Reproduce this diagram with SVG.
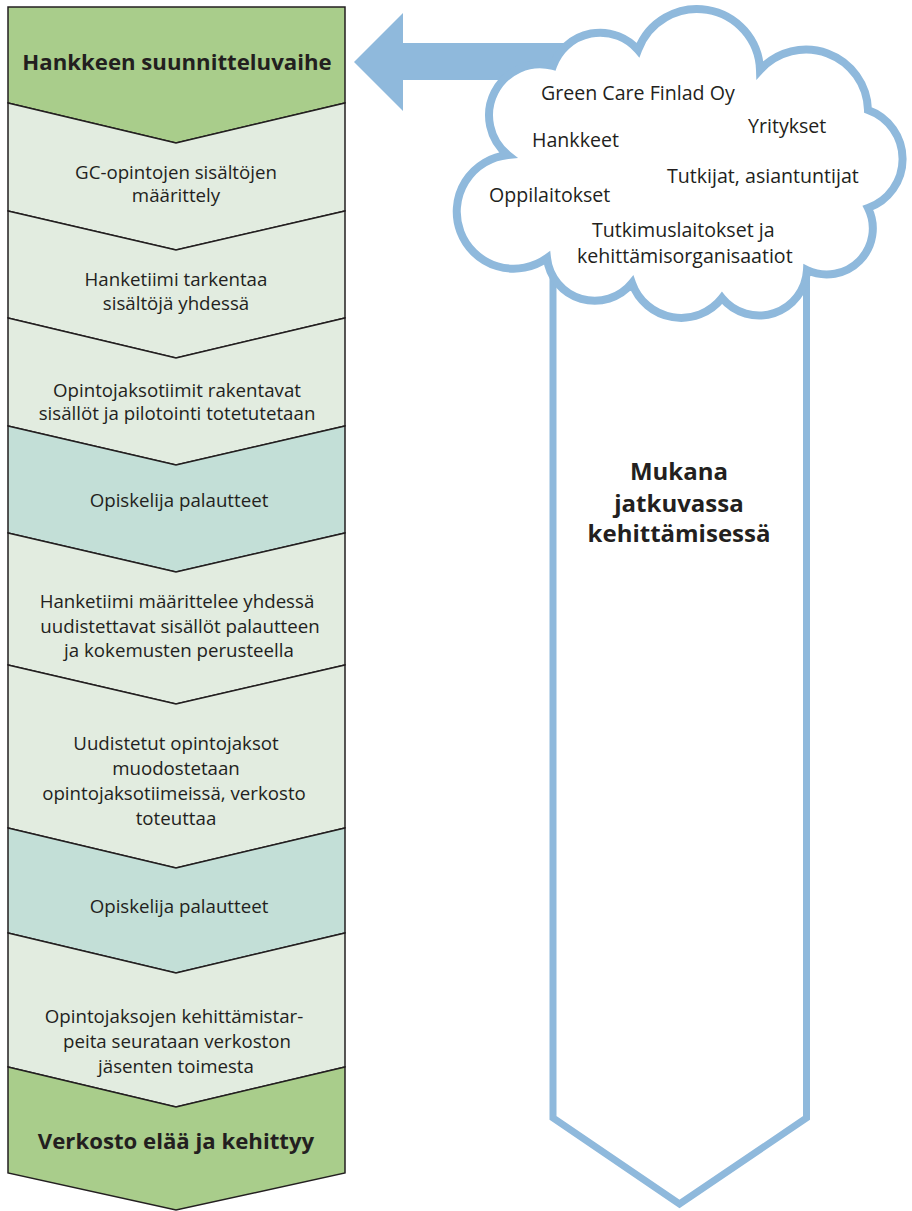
<svg xmlns="http://www.w3.org/2000/svg" width="912" height="1211" viewBox="0 0 912 1211">
<style>
.blk{stroke:#231f20;stroke-width:1.5;stroke-linejoin:miter}
.g{fill:#a9cd8b}
.l{fill:#e2ece0}
.t{fill:#c3dfd7}
.tx{font-family:"Open Sans","Noto Sans","Liberation Sans",sans-serif;font-size:18.7px;fill:#231f20;text-anchor:middle}
.hd{font-family:"Open Sans","Noto Sans","Liberation Sans",sans-serif;font-size:22.2px;font-weight:700;fill:#231f20;text-anchor:middle}
.mk{font-family:"Open Sans","Noto Sans","Liberation Sans",sans-serif;font-size:24px;font-weight:700;fill:#231f20;text-anchor:middle}
.ct{font-family:"Open Sans","Noto Sans","Liberation Sans",sans-serif;font-size:19.6px;fill:#231f20}
.blue{fill:none;stroke:#8fb9dc}
</style>
<rect width="912" height="1211" fill="#ffffff"/>

<g id="step1"><polygon class="blk g" points="8,7 345,7 345,103 176,143 8,103"/><text class="hd" x="177" y="70">Hankkeen suunnitteluvaihe</text></g>
<g id="step2"><polygon class="blk l" points="8,103 176,143 345,103 345,211 176,250 8,211"/><text class="tx" x="176" y="179">GC-opintojen sisältöjen</text><text class="tx" x="176" y="202">määrittely</text></g>
<g id="step3"><polygon class="blk l" points="8,211 176,250 345,211 345,318 176,358 8,318"/><text class="tx" x="176" y="286">Hanketiimi tarkentaa</text><text class="tx" x="176" y="310">sisältöjä yhdessä</text></g>
<g id="step4"><polygon class="blk l" points="8,318 176,358 345,318 345,426 176,465 8,426"/><text class="tx" x="177" y="397">Opintojaksotiimit rakentavat</text><text class="tx" x="177" y="420">sisällöt ja pilotointi totetutetaan</text></g>
<g id="step5"><polygon class="blk t" points="8,426 176,465 345,426 345,533 176,572 8,533"/><text class="tx" x="179" y="507">Opiskelija palautteet</text></g>
<g id="step6"><polygon class="blk l" points="8,533 176,572 345,533 345,665 176,704 8,665"/><text class="tx" x="177" y="608">Hanketiimi määrittelee yhdessä</text><text class="tx" x="180" y="633">uudistettavat sisällöt palautteen</text><text class="tx" x="179" y="657">ja kokemusten perusteella</text></g>
<g id="step7"><polygon class="blk l" points="8,665 176,704 345,665 345,828 176,868 8,828"/><text class="tx" x="176" y="750">Uudistetut opintojaksot</text><text class="tx" x="176" y="775">muodostetaan</text><text class="tx" x="174" y="800">opintojaksotiimeissä, verkosto</text><text class="tx" x="176" y="825">toteuttaa</text></g>
<g id="step8"><polygon class="blk t" points="8,828 176,868 345,828 345,933 176,973 8,933"/><text class="tx" x="179" y="913">Opiskelija palautteet</text></g>
<g id="step9"><polygon class="blk l" points="8,933 176,973 345,933 345,1067 176,1107 8,1067"/><text class="tx" x="174" y="1023">Opintojaksojen kehittämistar-</text><text class="tx" x="177" y="1048">peita seurataan verkoston</text><text class="tx" x="176" y="1073">jäsenten toimesta</text></g>
<g id="step10"><polygon class="blk g" points="8,1067 176,1107 345,1067 345,1173 176,1210 8,1173"/><text class="hd" x="176" y="1149">Verkosto elää ja kehittyy</text></g>

<g id="continuous-development">
<polyline class="blue" stroke-width="7" stroke-linejoin="miter" points="553,260 553,1118 679.5,1204 806.5,1118 806.5,260"/>
<text class="mk" x="679" y="480">Mukana</text>
<text class="mk" x="679" y="512">jatkuvassa</text>
<text class="mk" x="679" y="542">kehittämisessä</text>
</g>

<g id="connectors">
<polygon fill="#8fb9dc" points="354,62 403,13 403,43 575,43 575,80 403,80 403,111"/>
</g>

<g id="network-cloud">
<path fill="#ffffff" stroke="#8fb9dc" stroke-width="8" stroke-linejoin="miter" d="M553,66 A50,50 0 0 1 638,50 A63,63 0 0 1 760,70 A62,62 0 0 1 868,110 A52,52 0 0 1 868,208 A46,46 0 0 1 807,270 A48,48 0 0 1 722,298 A52,52 0 0 1 632,283 A48,48 0 0 1 547,258 A57,57 0 1 1 508,155 A51,51 0 0 1 553,66 Z"/>
<text class="ct" x="541" y="100">Green Care Finlad Oy</text>
<text class="ct" x="748" y="133">Yritykset</text>
<text class="ct" x="532" y="147">Hankkeet</text>
<text class="ct" x="667" y="183">Tutkijat, asiantuntijat</text>
<text class="ct" x="489" y="202">Oppilaitokset</text>
<text class="ct" x="592" y="237">Tutkimuslaitokset ja</text>
<text class="ct" x="577" y="263">kehittämisorganisaatiot</text>
</g>
</svg>
